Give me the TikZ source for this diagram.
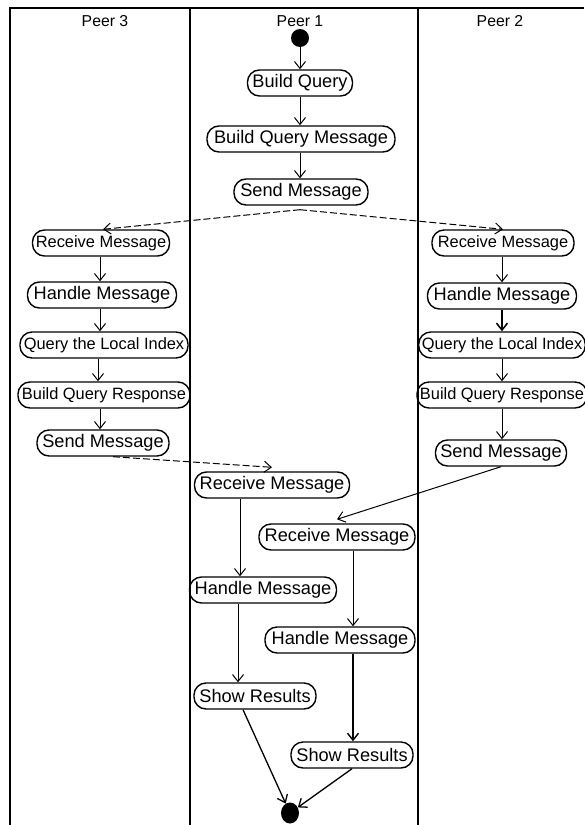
\documentclass[tikz,border=0pt]{standalone}
\usepackage{fontspec}
\setmainfont{Liberation Sans}
\usetikzlibrary{arrows.meta,shapes.geometric}

\tikzset{
  act/.style={draw, line width=1.4pt, rounded corners=12pt, minimum height=26pt,
    inner xsep=3pt, inner ysep=2pt, font=\fontsize{18.2}{20}\selectfont},
  acts/.style={act, font=\fontsize{16.4}{18}\selectfont},
  head/.style={font=\fontsize{15.8}{17}\selectfont},
  arr/.style={-{Straight Barb[length=7pt,width=11pt]}, line width=1pt},
  darr/.style={arr, dash pattern=on 7pt off 3pt},
  lane/.style={line width=1.9pt},
  startdot/.style={circle, fill=black, minimum size=18pt, inner sep=0pt},
  enddot/.style={ellipse, fill=black, minimum width=18pt, minimum height=21pt, inner sep=0pt},
}

\begin{document}
\begin{tikzpicture}[x=1pt, y=-1pt]
  \useasboundingbox (0,0) rectangle (584,825);

  % swimlanes
  \draw[lane] (10,825) -- (10,8) -- (584,8);
  \draw[lane] (190,8) -- (190,825);
  \draw[lane] (418,8) -- (418,825);

  \node[head] (h3) at (105,21) {Peer 3};
  \node[head] (h1) at (300,21) {Peer 1};
  \node[head] (h2) at (500,21) {Peer 2};

  % column guides for vertical flows
  \coordinate (cM)  at (300,0);
  \coordinate (cL)  at (100,0);
  \coordinate (cR)  at (502,0);
  \coordinate (cA)  at (240,0);
  \coordinate (cB)  at (353,0);
  \coordinate (cC)  at (238,0);

  % Peer 1: query
  \node[startdot] (start) at (300,38) {};
  \node[act, minimum width=105pt] (bq)   at (300,83)  {Build Query};
  \node[act, minimum width=188pt] (bqm)  at (301,139) {Build Query Message};
  \node[act, minimum width=134pt] (send) at (301,192) {Send Message};

  % Peer 3
  \node[acts, minimum width=137pt] (lrecv) at (101,243) {Receive Message};
  \node[act,  minimum width=149pt] (lhand) at (102,295) {Handle Message};
  \node[acts, minimum width=168pt] (lqli)  at (104,345) {Query the Local Index};
  \node[acts, minimum width=172pt] (lbqr)  at (104,395) {Build Query Response};
  \node[act,  minimum width=132pt] (lsend) at (103,443) {Send Message};

  % Peer 2
  \node[acts, minimum width=142pt] (rrecv) at (503,243) {Receive Message};
  \node[act,  minimum width=149pt] (rhand) at (502,296) {Handle Message};
  \node[acts, minimum width=164pt] (rqli)  at (502,345) {Query the Local Index};
  \node[acts, minimum width=170pt] (rbqr)  at (502,395) {Build Query Response};
  \node[act,  minimum width=131pt] (rsend) at (501,453) {Send Message};

  % Peer 1: responses
  \node[act, minimum width=155pt] (mrecv1) at (272,485) {Receive Message};
  \node[act, minimum width=156pt] (mrecv2) at (337,537) {Receive Message};
  \node[act, minimum width=147pt] (mhand1) at (263,590) {Handle Message};
  \node[act, minimum width=150pt] (mhand2) at (340,640) {Handle Message};
  \node[act, minimum width=122pt] (show1)  at (255,696) {Show Results};
  \node[act, minimum width=122pt] (show2)  at (352,755) {Show Results};
  \node[enddot] (stop) at (290,813) {};

  % query flow
  \draw[arr] (start) -- (bq);
  \draw[arr] (bq.south -| cM) -- (bqm.north -| cM);
  \draw[arr] (bqm.south -| cM) -- (send.north -| cM);
  \draw[darr] ([yshift=-4pt]send.south -| cM) -- ([xshift=2pt]lrecv.north);
  \draw[darr] ([yshift=-4pt]send.south -| cM) -- (rrecv.north);

  % Peer 3 handling
  \draw[arr] (lrecv.south -| cL) -- (lhand.north -| cL);
  \draw[arr] (lhand.south -| cL) -- (lqli.north -| cL);
  \draw[arr] ([xshift=-6pt]lqli.south) -- ([xshift=-6pt]lbqr.north);
  \draw[arr] (lbqr.south -| cL) -- (lsend.north -| cL);
  \draw[darr] ([xshift=10pt]lsend.south) -- ([yshift=4pt]mrecv1.north);

  % Peer 2 handling
  \draw[arr] (rrecv.south -| cR) -- (rhand.north -| cR);
  \draw[arr, line width=1.5pt] (rhand.south -| cR) -- (rqli.north -| cR);
  \draw[arr] (rqli.south -| cR) -- (rbqr.north -| cR);
  \draw[arr] (rbqr.south -| cR) -- (rsend.north -| cR);
  \draw[arr] (rsend.south) -- ([yshift=4pt]mrecv2.north);

  % Peer 1 result handling
  \draw[arr] (mrecv1.south -| cA) -- (mhand1.north -| cA);
  \draw[arr] (mrecv2.south -| cB) -- (mhand2.north -| cB);
  \draw[arr] (mhand1.south -| cC) -- (show1.north -| cC);
  \draw[arr, line width=1.4pt] (mhand2.south -| cB) -- (show2.north -| cB);
  \draw[arr, line width=1.3pt] ([xshift=-12pt]show1.south) -- (stop);
  \draw[arr, line width=1.3pt] (show2.south) -- (stop);
\end{tikzpicture}
\end{document}
